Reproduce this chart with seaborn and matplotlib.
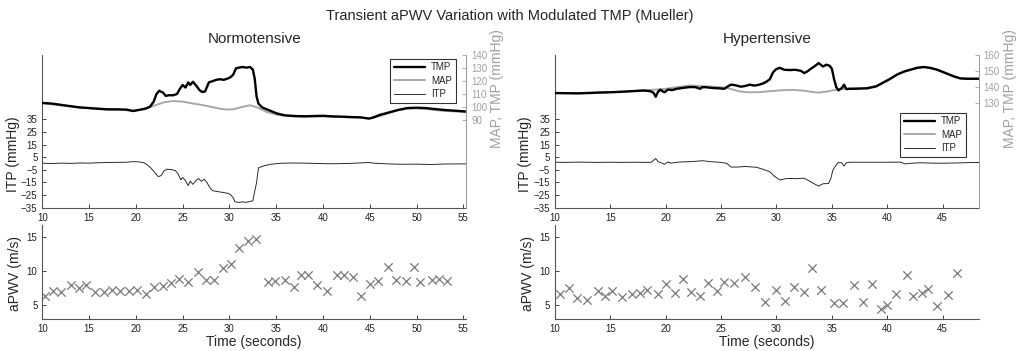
import matplotlib
matplotlib.use("Agg")
import matplotlib.pyplot as plt
import seaborn as sns

# ---- Normotensive: pressures (s, mmHg) ----
n_tmp_t = [10, 11, 12, 13, 14, 15, 16, 17, 18, 19, 19.7, 20.3, 21, 21.5, 21.9, 22.2, 22.5, 22.9, 23.2, 23.5,
           24.0, 24.4, 24.7, 25.0, 25.3, 25.6, 25.8, 26.1, 26.5, 26.8, 27.1, 27.4, 27.8, 28.2, 28.6, 29.0,
           29.4, 29.8, 30.1, 30.4, 30.7, 31.0, 31.4, 31.8, 32.2, 32.5, 32.7, 32.9, 33.1, 33.5, 34, 34.5,
           35, 35.5, 36, 37, 38, 39, 40, 41, 42, 43, 44, 44.9, 45.3, 46, 47, 48, 49, 50, 51, 52, 53, 54,
           55, 55.4]
n_tmp = [103, 102.5, 101.5, 100.5, 99.5, 99, 98.5, 98, 98, 97.8, 96.7, 97.5, 98.5, 100, 104, 110, 112.5,
         111, 108.5, 109, 109, 110, 114, 117, 115, 119, 117, 119.5, 116, 113, 111.5, 112, 119, 120, 121,
         121.5, 121, 122, 123, 125, 130, 130.5, 131, 130.5, 131, 129, 122, 108, 102.5, 99.5, 98, 96.5,
         95, 94, 93.3, 92.8, 92.6, 92.8, 93, 92.5, 92.3, 92, 91.8, 90.8, 91.5, 93.5, 95.5, 97.5, 99,
         99.3, 99, 98.2, 97.5, 97, 96.5, 96.2]

n_map_t = [10, 12, 14, 16, 18, 19.7, 21, 22, 23, 24, 25, 26, 27, 28, 29, 29.8, 30.5, 31.3, 32.2, 33, 34,
           35, 36, 38, 40, 42, 44, 45, 46, 47, 48, 49, 50, 51, 52, 53, 55.4]
n_map = [102.9, 101, 99.5, 98.2, 97.8, 97, 98.5, 101, 103.5, 104.5, 104, 102.7, 101.5, 100, 98.5, 97.8,
         98.2, 99.8, 101.2, 99.4, 96, 94, 92.8, 92.3, 92.5, 92, 91.5, 91, 92.5, 95, 97.3, 98.5, 98.7,
         98.3, 97.5, 96.8, 95.8]

n_itp_t = [10, 11, 12, 13, 14, 15, 16, 17, 18, 19, 19.7, 20.3, 20.8, 21.2, 21.6, 22.0, 22.4, 22.7, 23.0,
           23.3, 23.8, 24.2, 24.5, 24.8, 25.0, 25.3, 25.6, 25.8, 26.1, 26.4, 26.7, 27.0, 27.3, 27.6, 27.9,
           28.2, 28.6, 29.0, 29.4, 29.8, 30.1, 30.4, 30.6, 31.0, 31.4, 31.8, 32.2, 32.5, 32.7, 32.9, 33.1,
           33.6, 34.4, 35.5, 36.6, 38, 39.4, 41, 43, 44.9, 45.5, 47, 48.3, 50, 51.5, 53, 55.4]
n_itp = [0.2, 0.0, 0.3, 0.1, 0.4, 0.3, 0.6, 0.8, 0.9, 1.0, 1.5, 1.3, 0.8, -1, -3.5, -7, -10.4, -9.5, -6,
         -4.5, -4.8, -5.5, -8, -13, -11, -13.5, -17.5, -14, -16.5, -13.5, -12, -14, -12.5, -15, -19,
         -21.5, -22, -22.5, -23, -23.5, -24.5, -27, -30.2, -30.8, -30.3, -30.7, -30, -29.5, -22, -15,
         -3.5, -2, -0.6, 0.2, 0.4, 0.3, 0, -0.2, 0.1, 0.8, 0.2, -0.3, -0.6, -0.5, -0.8, -0.4, -0.3]

# ---- Hypertensive: pressures ----
h_tmp_t = [10, 11, 12, 13, 14, 15, 16, 17, 18, 18.6, 18.9, 19.1, 19.3, 19.5, 19.7, 19.9, 20.2, 20.6, 21,
           21.6, 22.2, 22.7, 23.1, 23.3, 23.6, 24.2, 24.8, 25.3, 25.6, 25.9, 26.3, 26.8, 27.2, 27.6, 28.0,
           28.4, 28.8, 29.1, 29.4, 29.7, 30.0, 30.3, 30.7, 31.2, 31.7, 32.2, 32.5, 32.8, 33.1, 33.5, 33.8,
           34.2, 34.5, 34.8, 35.0, 35.2, 35.4, 35.6, 35.9, 36.1, 36.3, 36.6, 37, 38.2, 39, 39.4, 40.2,
           40.9, 41.5, 42.1, 42.7, 43.3, 43.9, 44.5, 45, 45.4, 46, 46.6, 47.2, 48.3]
h_tmp = [136.3, 136.2, 136.1, 136.3, 136.6, 136.8, 137.1, 137.5, 137.9, 137.5, 136.5, 134, 137, 138.4,
         137.5, 136.8, 138.5, 138.2, 139, 139.6, 140.1, 140, 139, 140, 140, 139.5, 139.3, 139, 140.5,
         141.6, 141.2, 140.3, 140.8, 141.6, 141, 141.5, 142.4, 143.5, 145, 149.5, 151.5, 152.2, 151,
         150.8, 151, 150.3, 148.9, 150, 151.6, 153.5, 155.2, 153, 154.2, 153.5, 151.6, 145, 140, 138,
         139.5, 141.6, 138.8, 139, 139, 139.3, 140.5, 142, 145, 148, 149.8, 151, 152.2, 152.7, 152.1,
         151, 149.6, 148.5, 146.8, 145.5, 145.3, 145.3]

h_map_t = [10, 12, 14, 16, 18, 19, 20, 21, 22.2, 23.5, 24.5, 25.5, 26.2, 26.8, 27.5, 28.5, 29.4, 30.5,
           31.5, 32.5, 33.2, 33.8, 34.5, 35.3, 36, 37, 38.2, 39, 39.4, 40.2, 40.9, 41.5, 42.1, 42.7,
           43.3, 43.9, 44.5, 45, 45.4, 46, 46.6, 47.2, 48.3]
h_map = [136.3, 136.3, 136.7, 137.2, 138, 138.4, 139, 140, 141.1, 140.6, 140.2, 139.6, 138.2, 137.2,
         136.8, 136.9, 137.5, 138.1, 138.3, 137.8, 137, 136.6, 137.2, 138.3, 139, 139.2, 139.6, 140.8,
         142.3, 145.2, 148.2, 150, 151.2, 152.4, 152.9, 152.3, 151.2, 149.8, 148.7, 147, 145.7, 145.5,
         145.5]

h_itp_t = [10, 11, 12, 13, 14, 15, 16, 17, 18, 18.7, 19.1, 19.3, 19.6, 19.9, 20.2, 20.5, 21, 21.6, 22.5,
           23.3, 24, 24.8, 25.5, 25.9, 26.5, 27.2, 27.6, 28.2, 28.8, 29.4, 29.8, 30.3, 30.8, 31.2, 31.8,
           32.5, 33.0, 33.5, 33.8, 34.2, 34.7, 34.9, 35.1, 35.4, 35.6, 35.9, 36.1, 36.3, 36.6, 38, 40,
           41.2, 41.6, 42, 43, 44, 45, 46, 46.6, 47.5, 48.3]
h_itp = [1.0, 0.9, 1.1, 1.0, 0.9, 1.0, 0.9, 1.0, 0.9, 1.0, 4, 1.5, 0.5, -0.6, 1.2, 0.3, 1.0, 1.3, 1.6,
         2.2, 1.5, 1.0, 0.2, -2.8, -2.8, -2.3, -2.6, -3, -4.6, -6.5, -10, -13, -12, -11.8, -12, -11.6,
         -14, -16.5, -17.8, -16, -15.8, -12, -5, -1, 0.8, 0.5, -2, 0.5, 1.0, 1.0, 1.0, 1.1, -0.3, 0.1,
         0.6, 0.3, 0.2, 0.4, 0.5, 0.8, 0.8]

# ---- aPWV beats ----
n_pwv_t = [10.3, 11.1, 12.0, 13.1, 13.9, 14.7, 15.6, 16.6, 17.5, 18.3, 19.3, 20.1, 21.1, 21.9, 22.9, 23.8,
           24.6, 25.6, 26.6, 27.5, 28.4, 29.3, 30.2, 31.05, 32.0, 32.8, 34.1, 34.9, 35.9, 36.9, 37.6,
           38.4, 39.4, 40.4, 41.5, 42.2, 43.2, 44.1, 45.0, 45.9, 46.9, 47.8, 48.9, 49.7, 50.4, 51.6,
           52.4, 53.3]
n_pwv = [6.33, 6.97, 6.87, 7.86, 7.46, 7.96, 6.87, 6.82, 7.12, 6.97, 6.97, 7.22, 6.58, 7.56, 7.71, 8.2,
         8.8, 8.35, 9.83, 8.7, 8.7, 10.5, 11.0, 13.4, 14.46, 14.75, 8.3, 8.45, 8.6, 7.6, 9.43, 9.43,
         7.96, 7.07, 9.43, 9.43, 9.1, 6.33, 8.1, 8.45, 10.57, 8.6, 8.45, 10.57, 8.3, 8.6, 8.84, 8.45]

h_pwv_t = [10.5, 11.3, 12.0, 12.9, 13.85, 14.5, 15.2, 16.1, 17.0, 17.7, 18.35, 19.3, 20.0, 20.8, 21.6,
           22.3, 23.1, 23.8, 24.6, 25.3, 26.2, 27.2, 28.1, 29.0, 30.0, 30.8, 31.6, 32.5, 33.2, 34.0, 35.2,
           36.0, 37.0, 37.8, 38.6, 39.4, 40.0, 40.8, 41.75, 42.3, 43.1, 43.7, 44.5, 45.5, 46.3]
h_pwv = [6.63, 7.46, 5.99, 5.74, 7.07, 6.23, 7.07, 6.08, 6.63, 6.72, 7.12, 6.58, 8.05, 6.72, 8.84, 6.87,
         6.33, 8.2, 7.07, 8.35, 8.2, 9.09, 7.56, 5.39, 7.22, 5.59, 7.56, 6.82, 10.5, 7.12, 5.25, 5.25,
         7.96, 5.34, 8.05, 4.36, 4.9, 6.58, 9.43, 6.33, 6.72, 7.36, 4.85, 6.48, 9.68]

sns.set_style("ticks")
plt.rcParams["font.family"] = ["Liberation Sans", "DejaVu Sans"]
plt.rcParams["xtick.direction"] = "in"
plt.rcParams["ytick.direction"] = "in"

GRAY_AX = "#a0a0a0"
TICK_C = "#222222"

fig = plt.figure(figsize=(10.2, 3.51), dpi=100)


def panel(left, title, tmp_t, tmp, map_t, mapv, itp_t, itp, pwv_t, pwv, xmax, xticks, rlim, rticks, leg_anchor):
    ax = fig.add_axes([left, 0.408, 0.4155, 0.434])
    ax2 = ax.twinx()
    sns.lineplot(x=itp_t, y=itp, ax=ax, color="#2b2b2b", lw=0.7, label="ITP", legend=False)
    sns.lineplot(x=map_t, y=mapv, ax=ax2, color="#a8a8a8", lw=1.4, label="MAP", legend=False)
    sns.lineplot(x=tmp_t, y=tmp, ax=ax2, color="black", lw=1.7, label="TMP", legend=False)
    ax.set_xlim(10, xmax)
    ax.set_ylim(-35, 85.4)
    ax.set_yticks([-35, -25, -15, -5, 5, 15, 25, 35])
    ax.set_xticks(xticks)
    ax2.set_ylim(*rlim)
    ax2.set_yticks(rticks)
    ax.set_ylabel("ITP (mmHg)", fontsize=10)
    ax.yaxis.set_label_coords(-0.053, 0.35)
    ax2.set_ylabel("MAP, TMP (mmHg)", fontsize=10, color=GRAY_AX)
    ax2.yaxis.set_label_coords(1.057, 0.78)
    ax.set_title(title, fontsize=11, pad=9)
    for a in (ax, ax2):
        a.spines["top"].set_visible(False)
    ax.spines["right"].set_visible(False)
    ax2.spines["left"].set_visible(False)
    ax2.spines["bottom"].set_visible(False)
    ax2.spines["right"].set_color(GRAY_AX)
    ax.tick_params(labelsize=7, colors=TICK_C, length=3, width=0.6)
    ax2.tick_params(labelsize=7, colors=GRAY_AX, length=3, width=0.6)
    ax.spines["left"].set_color("#555555")
    ax.spines["bottom"].set_color("#555555")
    h1, l1 = ax2.get_legend_handles_labels()
    h2, l2 = ax.get_legend_handles_labels()
    handles = [h1[1], h1[0], h2[0]]
    labels = [l1[1], l1[0], l2[0]]
    leg = ax2.legend(handles, labels, loc="upper right", bbox_to_anchor=leg_anchor, fontsize=7,
                     frameon=True, fancybox=False, edgecolor="black", handlelength=3.2,
                     borderpad=0.4, labelspacing=0.35, handletextpad=0.6, borderaxespad=0)
    leg.get_frame().set_linewidth(0.8)

    bx = fig.add_axes([left, 0.0912, 0.4155, 0.268])
    sns.scatterplot(x=pwv_t, y=pwv, ax=bx, marker="x", color="#7a7a7a", s=36, linewidth=0.9)
    bx.set_xlim(10, xmax)
    bx.set_ylim(2.9, 16.8)
    bx.set_yticks([5, 10, 15])
    bx.set_xticks(xticks)
    bx.set_xlabel("Time (seconds)", fontsize=10, labelpad=1)
    bx.set_ylabel("aPWV (m/s)", fontsize=10)
    bx.yaxis.set_label_coords(-0.047, 0.48)
    bx.tick_params(labelsize=7, colors=TICK_C, length=3, width=0.6)
    sns.despine(ax=bx)
    bx.spines["left"].set_color("#555555")
    bx.spines["bottom"].set_color("#555555")


panel(0.0415, "Normotensive", n_tmp_t, n_tmp, n_map_t, n_map, n_itp_t, n_itp, n_pwv_t, n_pwv,
      55.3, [10, 15, 20, 25, 30, 35, 40, 45, 50, 55], (21.3, 140), [90, 100, 110, 120, 130, 140],
      (0.975, 0.98))
panel(0.544, "Hypertensive", h_tmp_t, h_tmp, h_map_t, h_map, h_itp_t, h_itp, h_pwv_t, h_pwv,
      48.25, [10, 15, 20, 25, 30, 35, 40, 45], (64, 160), [130, 140, 150, 160],
      (0.97, 0.625))

fig.suptitle("Transient aPWV Variation with Modulated TMP (Mueller)", fontsize=10.5, y=0.975)

fig.savefig("out.png", dpi=100)
